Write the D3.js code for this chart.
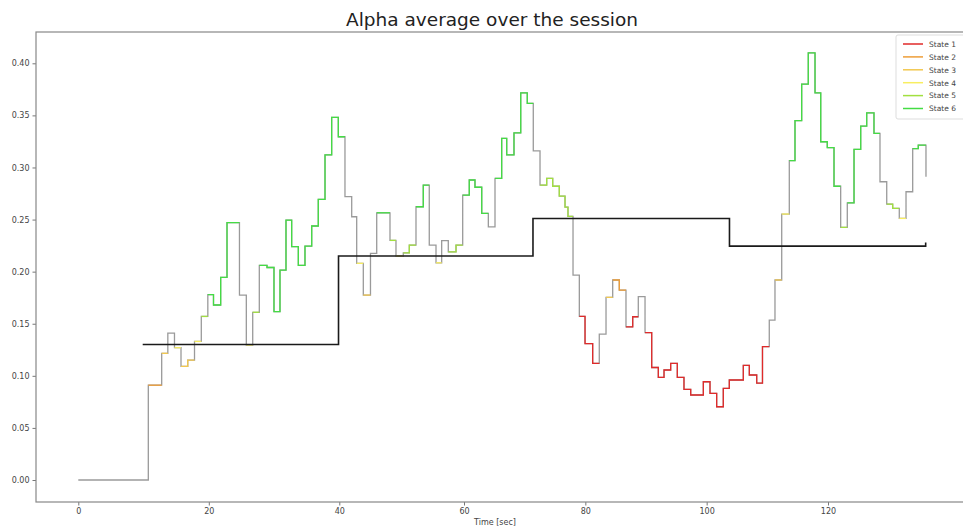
<!DOCTYPE html>
<html><head><meta charset="utf-8">
<script src="https://cdn.jsdelivr.net/npm/d3@7"></script>
<style>body{margin:0;background:#fff}svg{display:block}</style>
</head><body><svg id="c" width="963" height="529"></svg>
<script>
const stateNames = ["State 1", "State 2", "State 3", "State 4", "State 5", "State 6"];
const stateColors = ["#e02a2a", "#ee9e38", "#f2c850", "#f8ee60", "#a2e040", "#44dc44"];

// alpha step series (time in seconds as read on the axis, value, state 0 = no state)
const time = [0, 10.73, 12.78, 13.72, 14.74, 15.74, 16.77, 17.81, 18.85, 19.85,
  20.72, 21.82, 22.79, 24.70, 25.75, 26.73, 27.74, 28.92, 29.99, 30.91,
  31.83, 32.70, 33.72, 34.74, 35.77, 36.78, 37.81, 38.83, 39.85, 40.91,
  41.99, 42.79, 43.85, 45.00, 46.00, 48.13, 49.09, 50.26, 51.23, 52.30,
  53.47, 54.43, 55.51, 56.42, 57.48, 58.72, 59.79, 60.87, 61.81, 62.92,
  64.01, 65.11, 66.21, 67.04, 68.24, 69.35, 70.43, 71.42, 72.53, 73.63,
  74.62, 75.71, 76.65, 77.14, 77.97, 79.01, 79.95, 81.21, 82.30, 83.41,
  84.51, 85.60, 86.70, 87.81, 88.73, 89.84, 90.94, 92.03, 92.97, 94.07,
  95.16, 96.26, 97.37, 99.45, 100.55, 101.65, 102.74, 103.73, 106.04, 107.03,
  108.25, 109.20, 110.32, 111.26, 112.37, 113.62, 114.56, 115.66, 116.75, 117.86,
  118.80, 119.88, 120.99, 122.09, 123.18, 124.29, 125.39, 126.38, 127.58, 128.57,
  129.68, 130.66, 131.75, 132.86, 133.96, 134.88, 136.15];
const alpha = [0.000, 0.091, 0.1216, 0.141, 0.127, 0.109, 0.115, 0.133, 0.157, 0.178,
  0.168, 0.1945, 0.247, 0.1775, 0.1296, 0.161, 0.206, 0.204, 0.1616, 0.2015,
  0.2495, 0.224, 0.206, 0.2245, 0.2438, 0.2694, 0.312, 0.348, 0.3295, 0.272,
  0.2527, 0.208, 0.1775, 0.2175, 0.2565, 0.230, 0.215, 0.218, 0.2255, 0.2623,
  0.283, 0.2255, 0.2085, 0.2297, 0.219, 0.2255, 0.2735, 0.288, 0.281, 0.256,
  0.243, 0.2895, 0.328, 0.312, 0.3333, 0.3717, 0.3615, 0.316, 0.283, 0.2895,
  0.282, 0.2725, 0.262, 0.253, 0.1967, 0.157, 0.131, 0.112, 0.140, 0.1753,
  0.192, 0.1823, 0.147, 0.1567, 0.176, 0.1414, 0.108, 0.0985, 0.1056, 0.112,
  0.0985, 0.087, 0.0816, 0.0943, 0.0832, 0.0703, 0.088, 0.096, 0.110, 0.1008,
  0.093, 0.128, 0.1535, 0.192, 0.2553, 0.3065, 0.345, 0.380, 0.410, 0.3717,
  0.3247, 0.319, 0.282, 0.2425, 0.266, 0.3173, 0.3397, 0.3525, 0.3327, 0.2863,
  0.2649, 0.2607, 0.2511, 0.2767, 0.318, 0.3215, 0.291];
const state = [0, 2, 3, 0, 4, 3, 3, 4, 5, 6,
  6, 6, 6, 0, 4, 5, 6, 6, 6, 6,
  6, 6, 6, 6, 6, 6, 6, 6, 6, 0,
  0, 4, 3, 0, 6, 5, 4, 5, 5, 6,
  6, 0, 4, 0, 5, 5, 6, 6, 6, 6,
  0, 6, 6, 6, 6, 6, 6, 0, 5, 5,
  5, 5, 5, 5, 0, 1, 1, 1, 0, 3,
  2, 2, 1, 1, 0, 1, 1, 1, 1, 1,
  1, 1, 1, 1, 1, 1, 1, 1, 1, 1,
  1, 1, 0, 3, 4, 6, 6, 6, 6, 6,
  6, 6, 6, 5, 6, 6, 6, 6, 6, 0,
  5, 5, 4, 0, 6, 6, 6];

// session baseline (black step line)
const baseTime = [9.87, 39.88, 71.37, 103.76, 136.1];
const baseAlpha = [0.130, 0.215, 0.251, 0.2245, 0.228];

const xTicks = [0, 20, 40, 60, 80, 100, 120];
const yTicks = [0.00, 0.05, 0.10, 0.15, 0.20, 0.25, 0.30, 0.35, 0.40];

const svg = d3.select("#c");
const FONT = "DejaVu Sans, sans-serif";
const pL = 36, pT = 32, pB = 502, pR = 966;

// axis as printed (tick spacing in the picture is not uniform)
const x = d3.scaleLinear().domain([0, 40, 60, 120]).range([78.3, 339.3, 464, 828]);
const y = d3.scaleLinear().domain([0, 0.40]).range([480, 63.3]);

svg.append("rect").attr("width", 963).attr("height", 529).attr("fill", "#fff");

// title
svg.append("text").attr("x", 492).attr("y", 26).attr("text-anchor", "middle")
  .attr("font-family", FONT).attr("font-size", 18.5).attr("fill", "#222")
  .text("Alpha average over the session");

const g = svg.append("g");

// axes
const xa = svg.append("g").attr("transform", `translate(0,${pB})`)
  .call(d3.axisBottom(x).tickValues(xTicks).tickFormat(d3.format("d")).tickSize(3.5).tickPadding(3));
const ya = svg.append("g").attr("transform", `translate(${pL},0)`)
  .call(d3.axisLeft(y).tickValues(yTicks).tickFormat(d3.format(".2f")).tickSize(3.5).tickPadding(3));
[xa, ya].forEach(a => {
  a.select(".domain").remove();
  a.selectAll("line").attr("stroke", "#777");
  a.selectAll("text").attr("font-family", FONT).attr("font-size", 8).attr("fill", "#444");
});

// frame
svg.append("rect").attr("x", pL).attr("y", pT).attr("width", pR - pL).attr("height", pB - pT)
  .attr("fill", "none").attr("stroke", "#888").attr("stroke-width", 1.2);

// x label
svg.append("text").attr("x", 495).attr("y", 525).attr("text-anchor", "middle")
  .attr("font-family", FONT).attr("font-size", 8).attr("fill", "#444").text("Time [sec]");

const pts = time.map((t, i) => [t, alpha[i], state[i]]);
const stepLine = d3.line().x(d => x(d[0])).y(d => y(d[1])).curve(d3.curveStepAfter);

// full gray line
g.append("path").attr("d", stepLine(pts)).attr("fill", "none")
  .attr("stroke", "#9a9a9a").attr("stroke-width", 1.3);

// colored runs of identical state
let i = 0;
while (i < pts.length - 1) {
  const s = pts[i][2];
  let j = i;
  while (j + 1 < pts.length - 1 && pts[j + 1][2] === s) j++;
  if (s > 0) {
    const run = pts.slice(i, j + 1).concat([[pts[j + 1][0], pts[j][1]]]);
    g.append("path").attr("d", stepLine(run)).attr("fill", "none")
      .attr("stroke", stateColors[s - 1]).attr("stroke-width", 1.3);
  }
  i = j + 1;
}

// baseline
const base = baseTime.map((t, k) => [t, baseAlpha[k]]);
g.append("path").attr("d", stepLine(base)).attr("fill", "none")
  .attr("stroke", "#1a1a1a").attr("stroke-width", 1.6);

// legend
const lg = svg.append("g");
lg.append("rect").attr("x", 896).attr("y", 35).attr("width", 70).attr("height", 84).attr("rx", 2)
  .attr("fill", "#fff").attr("fill-opacity", 0.85).attr("stroke", "#ddd");
stateNames.forEach((n, k) => {
  const yy = 44 + k * 12.9;
  lg.append("line").attr("x1", 903).attr("x2", 923).attr("y1", yy).attr("y2", yy)
    .attr("stroke", stateColors[k]).attr("stroke-width", 1.5);
  lg.append("text").attr("x", 929).attr("y", yy + 2.8).attr("font-family", FONT)
    .attr("font-size", 7.5).attr("fill", "#444").text(n);
});
</script></body></html>
